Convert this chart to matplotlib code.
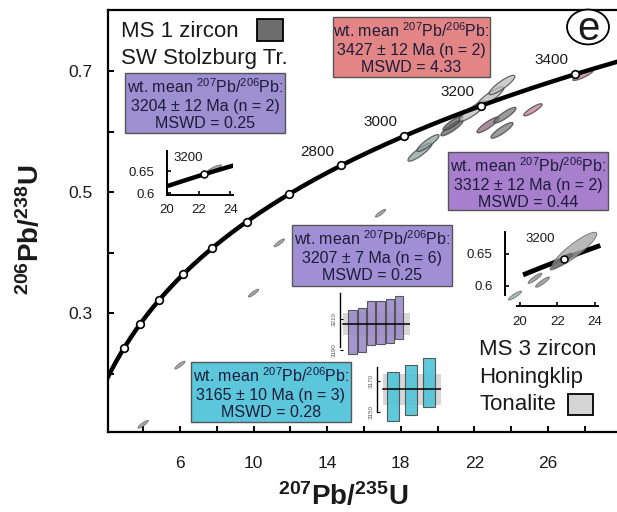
import numpy as np
import matplotlib
matplotlib.use("Agg")
import matplotlib.pyplot as plt
from matplotlib.patches import Polygon, Rectangle, Circle

plt.rcParams["font.family"] = ["Liberation Sans", "DejaVu Sans"]
plt.rcParams["mathtext.default"] = "regular"

W, H = 617, 512
TXT = "#1a1a1a"

# U decay constants (per year)
LAMBDA_238 = 1.55125e-10
LAMBDA_235 = 9.8485e-10

# concordia age marks (Ma)
marker_ages = [1400, 1600, 1800, 2000, 2200, 2400, 2600, 2800, 3000, 3200, 3400]
labeled_ages = [2800, 3000, 3200, 3400]

# main diagram ellipses: 207Pb/235U, half-width, 206Pb/238U, half-height, fill
disc_x = [4.0, 6.0, 10.0, 11.4, 16.9]
disc_y = [0.116, 0.214, 0.333, 0.416, 0.465]

clus_x = [19.04, 19.48, 20.78, 20.84, 21.92, 22.85, 23.5, 22.74, 23.66, 23.5, 25.18, 27.9]
clus_sx = [0.65, 0.6, 0.6, 0.55, 0.75, 0.75, 0.7, 0.6, 0.6, 0.6, 0.5, 0.55]
clus_y = [0.566, 0.581, 0.606, 0.614, 0.634, 0.657, 0.677, 0.611, 0.627, 0.602, 0.636, 0.693]
clus_sy = [0.015, 0.014, 0.013, 0.012, 0.017, 0.017, 0.016, 0.013, 0.013, 0.013, 0.010, 0.0085]
clus_c = ["#8fa3a0", "#8fa3a0", "#5f5f5f", "#5f5f5f", "#bdbdbd", "#bdbdbd", "#bdbdbd",
          "#8a6878", "#7a7a7a", "#7a7a7a", "#c47f95", "#c47f95"]

# inset (MS 1) ellipse
in1_x, in1_sx, in1_y, in1_sy = [23.0], [0.45], [0.656], [0.008]

# inset (MS 3) ellipses
in2_x = [22.9, 22.2, 20.8, 21.2, 19.73]
in2_sx = [1.2, 0.6, 0.37, 0.37, 0.35]
in2_y = [0.656, 0.638, 0.612, 0.606, 0.585]
in2_sy = [0.028, 0.013, 0.008, 0.008, 0.007]
in2_c = ["#a8a8a8", "#6a6a6a", "#909090", "#909090", "#8fb5ad"]

# weighted-mean bar plots (207Pb/206Pb ages, Ma)
purple_ages = [3201.8, 3203.1, 3207.6, 3208.0, 3208.9, 3211.2]
purple_err = 14
purple_mean, purple_mean_err = 3207, 7
cyan_ages = [3160.2, 3164.4, 3169.2]
cyan_err = 16
cyan_mean, cyan_mean_err = 3165, 10

# summary boxes: (value line, MSWD line, fill)
box_texts = [
    ("3427 ± 12 Ma (n = 2)", "MSWD = 4.33", "#e38585"),
    ("3204 ± 12 Ma (n = 2)", "MSWD = 0.25", "#9d8fd0"),
    ("3312 ± 12 Ma (n = 2)", "MSWD = 0.44", "#a77fcd"),
    ("3207 ± 7 Ma (n = 6)", "MSWD = 0.25", "#a08fd4"),
    ("3165 ± 10 Ma (n = 3)", "MSWD = 0.28", "#5cc6db"),
]
box_px = [(333, 17, 490, 77), (125, 73, 285, 133), (448, 152, 608, 210),
          (292, 225, 452, 286), (191, 362, 351, 422)]


def rect(l, t, r, b):
    return [l / W, 1 - b / H, (r - l) / W, (b - t) / H]


def fx(px):
    return px / W


def fy(py):
    return 1 - py / H


def conc(t_ma):
    t = np.asarray(t_ma, dtype=float) * 1e6
    return np.exp(LAMBDA_235 * t) - 1, np.exp(LAMBDA_238 * t) - 1


def ellipse(ax, cx, sx, cy, sy, rho=0.88, fc="#999999", ec="#333333", lw=0.9, alpha=0.75, z=3):
    t = np.linspace(0, 2 * np.pi, 80)
    u, v = np.cos(t), np.sin(t)
    xs = cx + sx * u
    ys = cy + sy * (rho * u + np.sqrt(1 - rho ** 2) * v)
    ax.add_patch(Polygon(np.column_stack([xs, ys]), closed=True, fc=fc, ec=ec,
                         lw=lw, alpha=alpha, zorder=z))


fig = plt.figure(figsize=(W / 100, H / 100), dpi=100)

# ---------------- main concordia diagram ----------------
ax = fig.add_axes(rect(108, 10, 617, 432))
ax.set_xlim(2.09, 29.75)
ax.set_ylim(0.1033, 0.801)
for s in ["left", "bottom", "top"]:
    ax.spines[s].set_linewidth(1.6)
ax.spines["right"].set_visible(False)

tc = np.linspace(1000, 3700, 400)
cx_, cy_ = conc(tc)
ax.plot(cx_, cy_, color="black", lw=3.2, zorder=4, solid_capstyle="butt")
mx, my = conc(marker_ages)
ax.plot(mx, my, "o", ms=5.5, mfc="white", mec="black", mew=1.2, zorder=5)
for a in labeled_ages:
    x0, y0 = conc(a)
    ax.annotate(str(a), (x0, y0), xytext=(-17, 10), textcoords="offset points",
                ha="center", va="center", fontsize=11, color=TXT)

for x0, y0 in zip(disc_x, disc_y):
    ellipse(ax, x0, 0.28, y0, 0.0065, fc="#8c8c8c", ec="#555555", lw=0.6)
for x0, sx, y0, sy, c in zip(clus_x, clus_sx, clus_y, clus_sy, clus_c):
    ellipse(ax, x0, sx, y0, sy, fc=c, ec="#3a3a3a")

ax.set_xticks(np.arange(4, 29, 2))
ax.set_xticklabels([str(v) if v % 4 == 2 else "" for v in range(4, 29, 2)])
ax.set_yticks([0.2, 0.3, 0.4, 0.5, 0.6, 0.7])
ax.set_yticklabels(["", "0.3", "", "0.5", "", "0.7"])
ax.tick_params(direction="in", length=4, width=1.4, labelsize=12.5, labelcolor=TXT)
ax.tick_params(axis="x", pad=17)
ax.tick_params(axis="y", pad=11)

fig.text(fx(343), fy(497), r"$^{207}$Pb/$^{235}$U", ha="center", va="center",
         fontsize=20, fontweight="bold", color=TXT)
fig.text(fx(31), fy(230), r"$^{206}$Pb/$^{238}$U", ha="center", va="center",
         fontsize=20, fontweight="bold", color=TXT, rotation=90)

# ---------------- summary boxes ----------------
for (l, t, r, b), (l2, l3, fc) in zip(box_px, box_texts):
    fig.add_artist(Rectangle((fx(l), fy(b)), (r - l) / W, (b - t) / H,
                             transform=fig.transFigure, fc=fc, ec="#555555", lw=1.0, zorder=6))
    cxp = (l + r) / 2
    fig.text(fx(cxp), fy(t + 20), r"wt. mean $^{207}$Pb/$^{206}$Pb:", ha="center",
             va="baseline", fontsize=11.5, color="#1c1c3a", zorder=7)
    fig.text(fx(cxp), fy(t + 38), l2, ha="center", va="baseline", fontsize=11.5,
             color="#1c1c3a", zorder=7)
    fig.text(fx(cxp), fy(t + 55), l3, ha="center", va="baseline", fontsize=11.5,
             color="#1c1c3a", zorder=7)

# ---------------- sample legends ----------------
fig.text(fx(121), fy(37), "MS 1 zircon", fontsize=16, color=TXT, va="baseline")
fig.text(fx(121), fy(64), "SW Stolzburg Tr.", fontsize=16, color=TXT, va="baseline")
fig.add_artist(Rectangle((fx(257), fy(41)), 26 / W, 22 / H, transform=fig.transFigure,
                         fc="#6d6d6d", ec="black", lw=1.3))
fig.text(fx(479), fy(355), "MS 3 zircon", fontsize=16, color=TXT, va="baseline")
fig.text(fx(479), fy(383), "Honingklip", fontsize=16, color=TXT, va="baseline")
fig.text(fx(479), fy(410), "Tonalite", fontsize=16, color=TXT, va="baseline")
fig.add_artist(Rectangle((fx(568), fy(415)), 25 / W, 21 / H, transform=fig.transFigure,
                         fc="#d4d4d4", ec="black", lw=1.3))

# panel letter
fig.add_artist(Circle((fx(588), fy(27)), 21 / W, transform=fig.transFigure,
                      fc="white", ec="black", lw=1.3))
fig.text(fx(588), fy(29), "e", ha="center", va="center", fontsize=29, color=TXT)

# ---------------- inset: MS 1 ----------------
a1 = fig.add_axes(rect(167, 151.2, 233.4, 195.2))
a1.set_xlim(20, 24.2)
a1.set_ylim(0.595, 0.695)
a1.patch.set_alpha(0)
for s in ["top", "right"]:
    a1.spines[s].set_visible(False)
for s in ["left", "bottom"]:
    a1.spines[s].set_linewidth(1.4)
t1 = np.linspace(3100, 3280, 100)
a1.plot(*conc(t1), color="black", lw=3.2, zorder=3)
for x0, sx, y0, sy in zip(in1_x, in1_sx, in1_y, in1_sy):
    ellipse(a1, x0, sx, y0, sy, fc="#8a8a8a", ec="#555555", lw=0.6, z=2)
a1.plot(*conc(3200), "o", ms=5, mfc="white", mec="black", mew=1.1, zorder=4)
a1.text(21.35, 0.68, "3200", fontsize=9.5, ha="center", va="center", color=TXT)
a1.set_xticks([20, 22, 24])
a1.set_yticks([0.6, 0.65])
a1.set_yticklabels(["0.6", "0.65"])
a1.tick_params(direction="in", length=3, width=1.2, labelsize=9.5, labelcolor=TXT)
a1.tick_params(axis="y", pad=9)
a1.tick_params(axis="x", pad=6)

# ---------------- inset: MS 3 ----------------
a2 = fig.add_axes(rect(505, 228.4, 600.6, 305.8))
a2.set_xlim(19.2, 24.3)
a2.set_ylim(0.569, 0.69)
a2.patch.set_alpha(0)
for s in ["top", "right"]:
    a2.spines[s].set_visible(False)
for s in ["left", "bottom"]:
    a2.spines[s].set_linewidth(1.4)
a2.spines["left"].set_bounds(0.586, 0.684)
a2.spines["bottom"].set_bounds(19.85, 24.15)
t2 = np.linspace(3105, 3275, 100)
a2.plot(*conc(t2), color="black", lw=3.5, zorder=3)
for x0, sx, y0, sy, c in zip(in2_x, in2_sx, in2_y, in2_sy, in2_c):
    ellipse(a2, x0, sx, y0, sy, rho=0.9, fc=c, ec="#555555", lw=0.6, alpha=0.8, z=4)
a2.plot(*conc(3200), "o", ms=5, mfc="white", mec="black", mew=1.1, zorder=5)
a2.text(21.1, 0.673, "3200", fontsize=9.5, ha="center", va="center", color=TXT)
a2.set_xticks([20, 22, 24])
a2.set_yticks([0.6, 0.65])
a2.set_yticklabels(["0.6", "0.65"])
a2.tick_params(direction="in", length=3, width=1.2, labelsize=9.5, labelcolor=TXT)
a2.tick_params(axis="y", pad=9)
a2.tick_params(axis="x", pad=7)


# ---------------- weighted-mean bar plots ----------------
def wm_axes(r, ages, err, mean, merr, fc, xl, yl, bounds, ticks, width):
    b = fig.add_axes(r)
    b.set_xlim(*xl)
    b.set_ylim(*yl)
    b.patch.set_alpha(0)
    for s in ["top", "right", "bottom"]:
        b.spines[s].set_visible(False)
    b.spines["left"].set_bounds(*bounds)
    b.spines["left"].set_linewidth(1.0)
    idx = np.arange(len(ages))
    x0, x1 = xl[0] + 0.35, xl[1]
    b.fill_between([x0, x1], mean - merr, mean + merr, color="#bdbdbd", alpha=0.6, lw=0, zorder=1)
    b.bar(idx, 2 * err, bottom=np.array(ages) - err, width=width, color=fc,
          edgecolor="#4a4a4a", lw=0.8, alpha=0.9, zorder=2)
    b.plot([x0, x1], [mean, mean], color="black", lw=1.1, zorder=3)
    b.set_xticks([])
    b.set_yticks(ticks)
    b.set_yticklabels([str(v) for v in ticks], rotation=90, va="center")
    b.tick_params(direction="in", length=2, width=0.8, labelsize=4.5, labelcolor="#555555", pad=2)
    return b


wm_axes(rect(340, 280.6, 410.2, 365.85), purple_ages, purple_err, purple_mean, purple_mean_err,
        "#9d8bc9", (-1.35, 6.2), (3180, 3235), (3192, 3227), [3190, 3210], 0.9)
wm_axes(rect(377, 342.5, 440.7, 427.75), cyan_ages, cyan_err, cyan_mean, cyan_mean_err,
        "#4fc3d6", (-0.89, 2.65), (3140, 3195), (3150, 3179), [3150, 3170], 0.72)

fig.savefig("out.png", dpi=100)
